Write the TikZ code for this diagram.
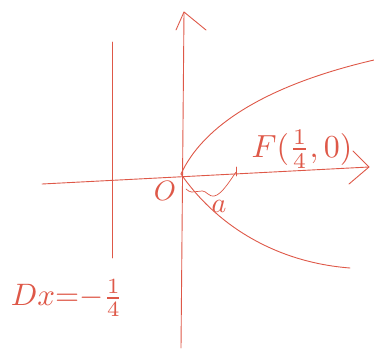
\documentclass[tikz,border=0pt]{standalone}
\usepackage{amsmath}
\usepackage{xcolor}
\usetikzlibrary{positioning}
\definecolor{penred}{RGB}{222,88,72}
\newcommand{\handwrite}[2][3]{\scalebox{#1}{#2}}
\tikzset{
  pen/.style={draw=penred,line width=0.9pt,line cap=round},
  handtext/.style={text=penred,inner sep=1pt},
}

\begin{document}
\begin{tikzpicture}[x=1pt,y=-1pt]
	\useasboundingbox (0,0) rectangle (374,348);
	\coordinate (o) at (181,174);
	\coordinate (xl) at (42,184);
	\coordinate (xr) at (369,167);
	\coordinate (yb) at (181,348);
	\coordinate (yt) at (184,12);
	\coordinate (dt) at (112,42);
	\coordinate (db) at (112,258);
	\coordinate (up) at (374,60);
	\coordinate (lo) at (350,268);
	\coordinate (f) at (236,172);
	%
	\node[handtext] (olabel) at (165,191) {\handwrite[2.8]{$O$}};
	\node[handtext] (flabel) at (302,149) {\handwrite[3.2]{$F(\frac{1}{4},0)$}};
	\node[handtext] (alabel) at (219,206) {\handwrite[2.8]{$a$}};
	\node[handtext] (dlabel) at (67,298) {\handwrite[3.1]{$Dx{=}{-}\frac{1}{4}$}};
	%
	\draw[pen] (xl) -- (xr);
	\draw[pen] (xr) -- ++(-16,-16) (xr) -- ++(-20,17);
	\draw[pen] (yb) -- (yt);
	\draw[pen] (yt) -- ++(-8,18) (yt) -- ++(22,18);
	\draw[pen,line width=0.7pt] (dt) -- (db);
	\draw[pen] (o) .. controls (202,128) and (262,86) .. (up);
	\draw[pen] (o) .. controls (214,222) and (272,262) .. (lo);
	\draw[pen] (f) ++(0,-5) -- ++(0,9);
	\draw[pen,line width=0.7pt] (186,189) .. controls (194,197) and (200,186) .. (208,194)
		.. controls (216,201) and (224,190) .. (f);
\end{tikzpicture}
\end{document}
